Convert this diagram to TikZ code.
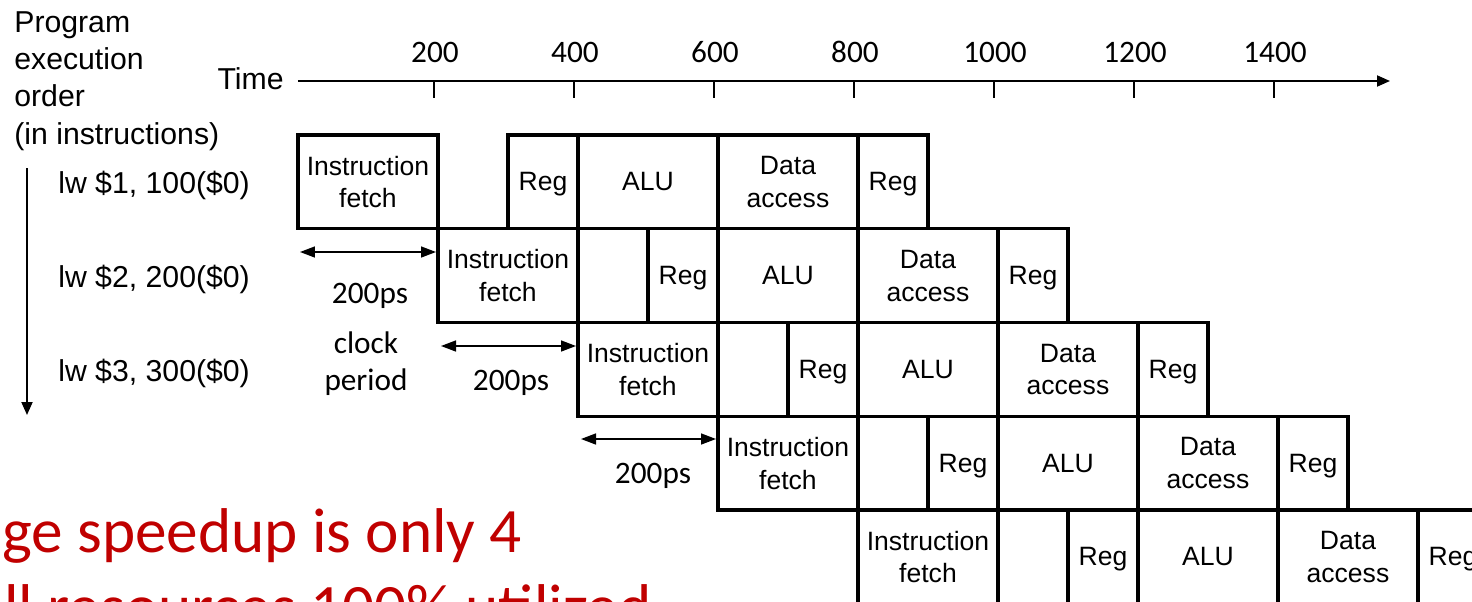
\documentclass[tikz,border=0pt]{standalone}
\usepackage{fontspec}
\setmainfont{Liberation Sans}
\newfontfamily\calibri{Carlito}
\usepackage{tikz}
\usepackage{xcolor}
\usetikzlibrary{arrows.meta}
\definecolor{slidered}{RGB}{192,0,0}

\tikzset{
  stage/.style={draw, line width=1.8pt, inner sep=0pt, outer sep=0pt, anchor=north west,
    minimum height=1.875cm, align=center, text depth=0pt, font=\fontsize{15.1pt}{18.7pt}\selectfont},
  wide/.style={stage, minimum width=2.8cm},
  half/.style={stage, minimum width=1.4cm},
  label/.style={inner sep=0pt, font=\fontsize{17.2pt}{21.3pt}\selectfont},
  ctext/.style={inner sep=0pt, anchor=base, font=\calibri\fontsize{17.8pt}{21.5pt}\selectfont},
  period/.style={<->, line width=0.85pt, >={Triangle[length=0.3cm, width=0.22cm]}}
}

\begin{document}
\begin{tikzpicture}[x=0.02cm, y=-0.02cm, >={Triangle[length=0.26cm, width=0.22cm]}]
    \useasboundingbox (0,0) rectangle (1472,602);
    \clip (0,0) rectangle (1472,602);
    \node[label, anchor=north west, align=left] (order) at (14,11) {Program\\execution\\order\\(in instructions)};
    \node[label, anchor=east] (time) at (284,79) {Time};
    \coordinate (tend) at (1390,81);
    \draw[->, line width=1.1pt, shorten <=0.28cm] (time.east |- tend) -- (tend);
    \foreach \t [count=\k from 0] in {200,400,...,1400} {
        \draw[line width=0.7pt] ({434+140*\k},82) -- ++(0,16);
        \node[ctext] (tick\t) at ({435+140*\k},62) {\t};
    }
    \coordinate (otop) at (27,168);
    \coordinate (obot) at (27,415);
    \draw[->, line width=1.1pt] (otop) -- (obot);
    \foreach \i/\n in {0/1,1/2,2/3}
        \node[label, anchor=base west] (lw\n) at (58,{193.5+93.75*\i}) {lw \$\n, \n00(\$0)};
    \foreach \i in {0,...,4} {
        \pgfmathsetmacro{\xa}{298+140*\i}
        \pgfmathsetmacro{\ya}{135+93.75*\i}
        \node[wide] (if\i) at (\xa,\ya) {Instruction\\fetch};
        \node[half] (rd\i) at (\xa+210,\ya) {Reg};
        \node[wide] (alu\i) at (\xa+280,\ya) {ALU};
        \node[wide] (mem\i) at (\xa+420,\ya) {Data\\access};
        \node[half] (wb\i) at (\xa+560,\ya) {Reg};
    }
    \coordinate (a1) at (300,252);
    \coordinate (b1) at (436,252);
    \coordinate (a2) at (441,346);
    \coordinate (b2) at (576,346);
    \coordinate (a3) at (581,439);
    \coordinate (b3) at (716,439);
    \draw[period] (a1) -- (b1);
    \draw[period] (a2) -- (b2);
    \draw[period] (a3) -- (b3);
    \node[ctext] (ps1) at (370,303) {200ps};
    \node[ctext, anchor=north, align=center] (clk) at (366,331) {clock\\period};
    \node[ctext] (ps2) at (511,390) {200ps};
    \node[ctext] (ps3) at (653,483) {200ps};
    \node[inner sep=0pt, anchor=base west, text=slidered, font=\calibri\fontsize{36pt}{43pt}\selectfont] (speedup) at (2,552) {ge speedup is only 4};
    \node[inner sep=0pt, anchor=base west, text=slidered, font=\calibri\fontsize{36pt}{43pt}\selectfont] (usage) at (4,628) {ll resources 100\% utilized};
\end{tikzpicture}
\end{document}
